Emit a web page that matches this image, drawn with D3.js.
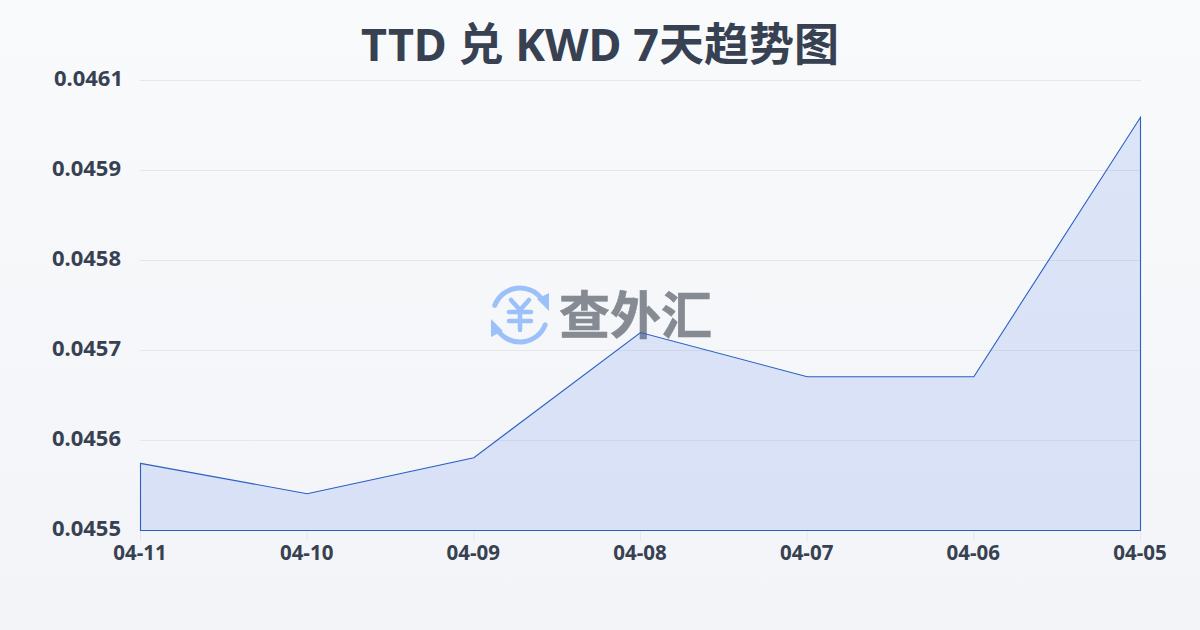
<!DOCTYPE html>
<html><head><meta charset="utf-8">
<script src="https://cdnjs.cloudflare.com/ajax/libs/d3/7.8.5/d3.min.js"></script>
<style>html,body{margin:0;padding:0;width:1200px;height:630px;overflow:hidden}svg{display:block}</style>
</head><body><svg id="c" width="1200" height="630"></svg>
<script>
const dates = ["04-11","04-10","04-09","04-08","04-07","04-06","04-05"];
const rates = [0.045582,0.045545,0.045589,0.045742,0.045688,0.045688,0.046005];
const tickVals = [0.0455,0.04561,0.04572,0.04583,0.04594,0.04605];
const tickLabels = ["0.0455","0.0456","0.0457","0.0458","0.0459","0.0461"];
const titleText = "TTD 兑 KWD 7天趋势图";
const logoText = "查外汇";
const font = '"Noto Sans","Noto Sans CJK SC",sans-serif';

const svg = d3.select("#c");
const defs = svg.append("defs");
const g = defs.append("linearGradient").attr("id","bg").attr("x1",0).attr("y1",0).attr("x2",0).attr("y2",1);
g.append("stop").attr("offset","0").attr("stop-color","#f8fafc");
g.append("stop").attr("offset","1").attr("stop-color","#f2f4f7");
svg.append("rect").attr("width",1200).attr("height",630).attr("fill","url(#bg)");

const x = d3.scalePoint().domain(dates).range([140.5,1140.5]);
const y = d3.scaleLinear().domain([0.0455,0.04605]).range([530.5,80.5]);

svg.append("text").attr("x",600).attr("y",61).attr("text-anchor","middle")
  .attr("font-family",font).attr("font-weight",700).attr("font-size",45).attr("fill","#374151").text(titleText);

svg.append("g").selectAll("line").data(tickVals.slice(1)).join("line")
  .attr("x1",140).attr("x2",1141).attr("y1",d=>y(d)).attr("y2",d=>y(d))
  .attr("stroke","#e5e7eb").attr("stroke-width",1);

svg.append("g").selectAll("text").data(tickVals).join("text")
  .attr("x",(d,i)=>i===5?123:121).attr("y",d=>y(d)-2).attr("dy","0.35em").attr("text-anchor","end")
  .attr("font-family",font).attr("font-weight",700).attr("font-size",22).attr("fill","#374151")
  .text((d,i)=>tickLabels[i]);

svg.append("g").selectAll("line").data(dates).join("line")
  .attr("x1",d=>x(d)).attr("x2",d=>x(d)).attr("y1",530).attr("y2",541)
  .attr("stroke","#e5e7eb").attr("stroke-width",1);
svg.append("g").selectAll("text").data(dates).join("text")
  .attr("x",d=>x(d)-0.5).attr("y",560).attr("text-anchor","middle")
  .attr("font-family",font).attr("font-weight",700).attr("font-size",20.5).attr("fill","#374151").text(d=>d);

const wm = svg.append("g").attr("transform","translate(520,315)");
const ringArc = d3.arc().innerRadius(24.5).outerRadius(29.5).cornerRadius(2.5);
wm.append("path").attr("d",ringArc({startAngle:-1.3,endAngle:1.05})).attr("fill","#9cc0fa");
wm.append("path").attr("d",ringArc({startAngle:1.85,endAngle:4.2})).attr("fill","#9cc0fa");
wm.append("path").attr("d","M17,-16 L29,-4 L29,-22 Z").attr("fill","#9cc0fa");
wm.append("path").attr("d","M-17,16 L-29,4 L-29,22 Z").attr("fill","#9cc0fa");
wm.append("path").attr("d","M-9,-15 L0,-5 L9,-15 M-11,-3 H11 M-11,6 H11 M0,-5 V15")
  .attr("fill","none").attr("stroke","#9cc0fa").attr("stroke-width",4.5).attr("stroke-linecap","round").attr("stroke-linejoin","round");
svg.append("text").attr("x",559).attr("y",334).attr("font-family",'"Noto Sans CJK SC",sans-serif').attr("font-weight",700)
  .attr("font-size",51).attr("fill","#868b93").attr("stroke","#868b93").attr("stroke-width",0.6).text(logoText);

const area = d3.area().x((d,i)=>x(dates[i])).y0(y(0.0455)).y1(d=>y(d));
svg.append("path").datum(rates).attr("d",d=>area(d)).attr("fill","#285ce6").attr("fill-opacity",0.13)
  .attr("stroke","#2a5fc4").attr("stroke-width",1.1);
</script></body></html>
